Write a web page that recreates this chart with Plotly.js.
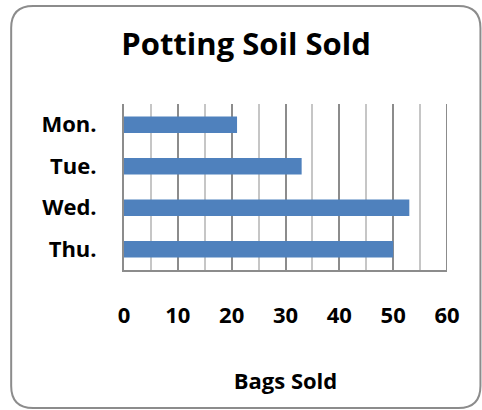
<!DOCTYPE html>
<html>
<head>
<meta charset="utf-8">
<script src="https://cdn.plot.ly/plotly-3.0.1.min.js"></script>
<style>html,body{margin:0;padding:0;background:#fff;}#chart{width:482px;height:410px;}</style>
</head>
<body>
<div id="chart"></div>
<script>
var days = ["Mon.", "Tue.", "Wed.", "Thu."];
var bagsSold = [21, 33, 53, 50];
var xTickVals = [0, 10, 20, 30, 40, 50, 60];

var W = 482, H = 410;
var L = 124, R = 34.5, T = 104, B = 140;
var pw = W - L - R, ph = H - T - B;
function px(x) { return (x - L) / pw; }
function py(y) { return (H - B - y) / ph; }
function roundRect(x1, y1, x2, y2, r) {
  var p = [];
  p.push('M' + px(x1 + r) + ',' + py(y1));
  p.push('L' + px(x2 - r) + ',' + py(y1));
  p.push('Q' + px(x2) + ',' + py(y1) + ' ' + px(x2) + ',' + py(y1 + r));
  p.push('L' + px(x2) + ',' + py(y2 - r));
  p.push('Q' + px(x2) + ',' + py(y2) + ' ' + px(x2 - r) + ',' + py(y2));
  p.push('L' + px(x1 + r) + ',' + py(y2));
  p.push('Q' + px(x1) + ',' + py(y2) + ' ' + px(x1) + ',' + py(y2 - r));
  p.push('L' + px(x1) + ',' + py(y1 + r));
  p.push('Q' + px(x1) + ',' + py(y1) + ' ' + px(x1 + r) + ',' + py(y1));
  p.push('Z');
  return p.join(' ');
}

var font = "'Open Sans', 'DejaVu Sans', sans-serif";
var xMax = xTickVals[xTickVals.length - 1];

var trace = {
  type: 'bar',
  orientation: 'h',
  y: days,
  x: bagsSold,
  marker: { color: '#4F81BD' },
  hoverinfo: 'x+y'
};

var layout = {
  width: W, height: H,
  margin: { l: L, r: R, t: T, b: B, pad: 0 },
  paper_bgcolor: '#ffffff',
  plot_bgcolor: '#ffffff',
  showlegend: false,
  bargap: 0.6,
  title: {
    text: '<b>Potting Soil Sold</b>',
    font: { family: font, size: 31, color: '#000000' },
    xref: 'container', yref: 'container',
    x: 246 / W, xanchor: 'center',
    y: 1 - 44 / H, yanchor: 'middle'
  },
  xaxis: {
    range: [0, xMax],
    tickvals: xTickVals,
    ticktext: xTickVals.map(function (v) { return '<b>' + v + '</b>'; }),
    ticks: '',
    ticklabelstandoff: 25,
    tickfont: { family: font, size: 22, color: '#000000' },
    showgrid: true,
    gridcolor: '#8c8c8c',
    gridwidth: 2,
    minor: { dtick: 5, tick0: 0, showgrid: true, gridcolor: '#c6c6c6', gridwidth: 2, ticks: '' },
    zeroline: false,
    showline: true,
    linecolor: '#8c8c8c',
    linewidth: 2,
    fixedrange: true,
    title: {
      text: '<b>Bags Sold</b>',
      font: { family: font, size: 22, color: '#000000' },
      standoff: 45
    }
  },
  yaxis: {
    autorange: 'reversed',
    ticks: '',
    ticklabelstandoff: 21,
    ticktext: days.map(function (d) { return '<b>' + d + '</b>'; }),
    tickvals: days,
    tickfont: { family: font, size: 22, color: '#000000' },
    showgrid: false,
    zeroline: false,
    showline: true,
    linecolor: '#8c8c8c',
    linewidth: 2,
    fixedrange: true
  },
  shapes: [{
    type: 'line',
    xref: 'x', yref: 'paper',
    x0: xMax, x1: xMax, y0: 0, y1: 1,
    line: { color: '#8c8c8c', width: 2 },
    layer: 'below'
  }, {
    type: 'path',
    xref: 'paper', yref: 'paper',
    path: roundRect(11, 6, 481, 408, 22),
    line: { color: '#8c8c8c', width: 2 },
    fillcolor: 'rgba(0,0,0,0)',
    layer: 'above'
  }]
};

Plotly.newPlot('chart', [trace], layout, { displayModeBar: false, staticPlot: true });
</script>
</body>
</html>
